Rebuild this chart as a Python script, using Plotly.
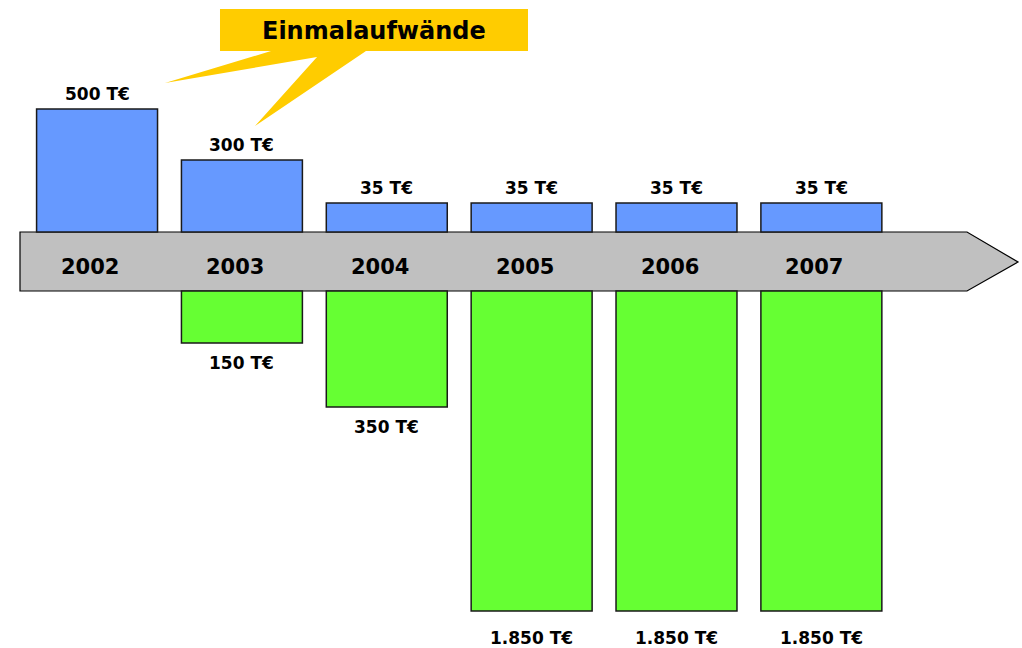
import plotly.graph_objects as go

# ---- data ----
years = ["2002", "2003", "2004", "2005", "2006", "2007"]
cost_labels = ["500 T€", "300 T€", "35 T€", "35 T€", "35 T€", "35 T€"]
# drawn (schematic) bar lengths as shown in the picture
cost_height = [123, 72, 29, 29, 29, 29]
saving_years = ["2003", "2004", "2005", "2006", "2007"]
saving_labels = ["150 T€", "350 T€", "1.850 T€", "1.850 T€", "1.850 T€"]
saving_height = [52, 116, 320, 320, 320]
callout_text = "Einmalaufwände"

W, H = 1022, 648
BAND_TOP_PX, BAND_BOT_PX = 232, 291
BAND = BAND_BOT_PX - BAND_TOP_PX
FONT = "DejaVu Sans"
BLUE = "#6699FF"
GREEN = "#66FF33"

idx = {y: i for i, y in enumerate(years)}
xs_cost = [idx[y] for y in years]
xs_save = [idx[y] for y in saving_years]

fig = go.Figure()
fig.add_trace(go.Bar(
    x=xs_cost, y=cost_height, base=0, width=0.835,
    marker=dict(color=BLUE, line=dict(color="#1a1a1a", width=1.5)),
    hoverinfo="skip", showlegend=False))
fig.add_trace(go.Bar(
    x=xs_save, y=[-h for h in saving_height], base=-BAND, width=0.835,
    marker=dict(color=GREEN, line=dict(color="#1a1a1a", width=1.5)),
    hoverinfo="skip", showlegend=False))

ann = []
for x, h, t in zip(xs_cost, cost_height, cost_labels):
    ann.append(dict(x=x, y=h, text=t, showarrow=False, yanchor="bottom", yshift=3,
                    font=dict(family=FONT, size=17, color="black", weight="bold")))
for x, h, t in zip(xs_save, saving_height, saving_labels):
    ann.append(dict(x=x, y=-BAND - h, text=t, showarrow=False, yanchor="top",
                    yshift=-8 if h < 200 else -15,
                    font=dict(family=FONT, size=17, color="black", weight="bold")))
for x, y in zip(xs_cost, years):
    ann.append(dict(x=x, y=-35, text=y, showarrow=False, xshift=-7,
                    font=dict(family=FONT, size=21, color="black", weight="bold")))


def px(x, y):
    return f"{x / W:.5f},{1 - y / H:.5f}"


arrow = ("M " + px(20, BAND_TOP_PX) + " L " + px(967, BAND_TOP_PX) + " L " + px(1018, 262)
         + " L " + px(967, BAND_BOT_PX) + " L " + px(20, BAND_BOT_PX) + " Z")
callout = ("M " + px(220, 9) + " L " + px(528, 9) + " L " + px(528, 51) + " L " + px(366, 51)
           + " L " + px(255, 126) + " L " + px(317, 57) + " L " + px(165, 83) + " L " + px(271, 51)
           + " L " + px(220, 51) + " Z")
shapes = [
    dict(type="path", path=arrow, xref="paper", yref="paper", fillcolor="#C0C0C0",
         line=dict(color="black", width=1.2), layer="below"),
    dict(type="path", path=callout, xref="paper", yref="paper", fillcolor="#FFCC00",
         line=dict(width=0), layer="above"),
]
ann.append(dict(x=374 / W, y=1 - 31 / H, xref="paper", yref="paper", text=callout_text,
                xanchor="center", yanchor="middle", showarrow=False,
                font=dict(family=FONT, size=24, color="black", weight="bold")))

fig.update_layout(
    width=W, height=H, margin=dict(l=0, r=0, t=0, b=0),
    paper_bgcolor="white", plot_bgcolor="white",
    xaxis=dict(range=[-0.670, 6.385], visible=False, fixedrange=True),
    yaxis=dict(range=[-(H - BAND_TOP_PX), BAND_TOP_PX], visible=False, fixedrange=True),
    shapes=shapes, annotations=ann, barmode="overlay",
)
fig.write_html("out.html", config={"displayModeBar": False},
               post_script="document.body.style.margin='0';document.body.style.overflow='hidden';")
